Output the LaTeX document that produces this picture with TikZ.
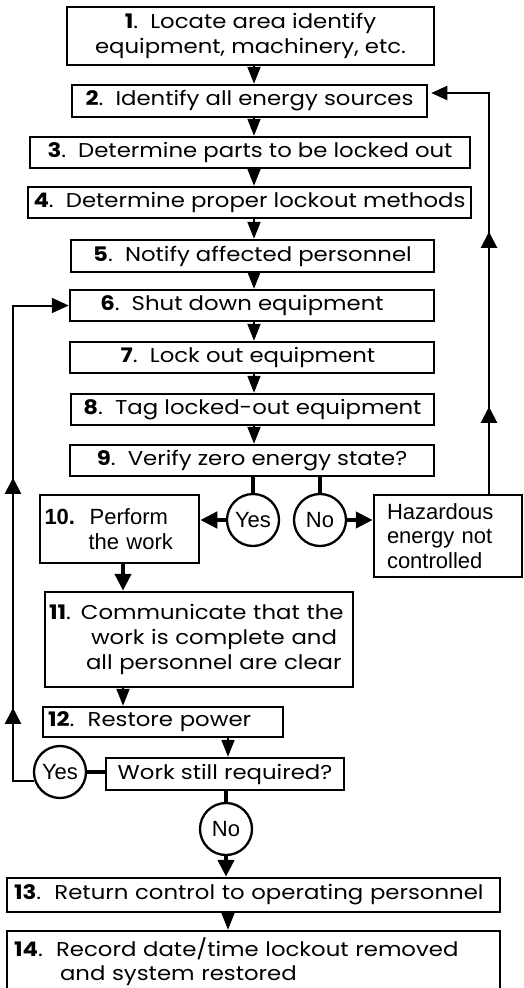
\documentclass[tikz,border=0pt]{standalone}
\usepackage{fontspec}
\setmainfont[FakeStretch=1.14]{Poppins}
\newfontfamily\arialf{Liberation Sans}
\usetikzlibrary{arrows.meta,decorations.markings}
\tikzset{
  box/.style={draw, line width=2.5pt, inner sep=0pt, font=\fontsize{20}{25}\selectfont, align=center},
  abox/.style={draw, line width=2.5pt, inner sep=0pt, font=\arialf\fontsize{22}{24.5}\selectfont},
  circ/.style={draw, circle, line width=2.3pt, minimum size=52pt, inner sep=0pt, font=\arialf\fontsize{22}{24}\selectfont},
  down/.style={line width=2pt, -{Triangle[width=13pt,length=17pt]}},
  stem/.style={line width=4.5pt},
  stemarrow/.style={line width=4.5pt, -{Triangle[width=16pt,length=17pt]}},
  conn/.style={line width=2pt},
  midarrow/.style={postaction={decorate, decoration={markings, mark=at position #1 with {\arrow{Triangle[width=16pt,length=16pt]}}}}}
}
\begin{document}
\begin{tikzpicture}[x=1pt,y=-1pt]
\clip (0,0) rectangle (524,988);
\useasboundingbox (0,0) rectangle (524,988);
\fill[white] (0,0) rectangle (524,988);
\coordinate (cx) at (254,0);
\coordinate (cy) at (123,0);
\coordinate (cz) at (228,0);
\coordinate (rx) at (489,0);
\coordinate (lx) at (13,0);

\node[box, minimum width=367pt, minimum height=58pt] (b1) at (250.5,36) {\textbf{1}.\ \ Locate area identify\\equipment, machinery, etc.};
\node[box, minimum width=355pt, minimum height=32pt] (b2) at (249.5,101) {\textbf{2}.\ \ Identify all energy sources};
\node[box, minimum width=440pt, minimum height=31pt] (b3) at (250,152.5) {\textbf{3}.\ \ Determine parts to be locked out};
\node[box, minimum width=443pt, minimum height=31pt] (b4) at (249.5,202.5) {\textbf{4}.\ \ Determine proper lockout methods};
\node[box, minimum width=363pt, minimum height=32pt] (b5) at (252.5,256) {\textbf{5}.\ \ Notify affected personnel};
\node[box, minimum width=364pt, minimum height=31pt] (b6) at (252,305.5) {\textbf{6}.\ \ Shut down equipment\hspace*{20pt}};
\node[box, minimum width=364pt, minimum height=31pt] (b7) at (252,357.5) {\textbf{7}.\ \ Lock out equipment\hspace*{8pt}};
\node[box, minimum width=363pt, minimum height=31pt] (b8) at (252.5,409.5) {\textbf{8}.\ \ Tag locked-out equipment};
\node[box, minimum width=364pt, minimum height=31pt] (b9) at (252,460.5) {\textbf{9}.\ \ Verify zero energy state?};

\node[circ] (y1) at (253,520) {Yes};
\node[circ] (n1) at (320,520) {No};

\node[abox, minimum width=159pt, minimum height=68pt, align=left, text width=150pt, inner xsep=4pt] (b10) at (119.5,529) {\textbf{10.}\ \ Perform\\\hspace*{44pt}the work};
\node[abox, minimum width=148pt, minimum height=82pt, align=left, text width=122pt, inner xsep=13pt] (hz) at (448,536) {Hazardous\\energy not\\controlled};

\node[box, minimum width=308pt, minimum height=95pt, align=left, text width=300pt, inner xsep=4pt] (b11) at (199,639.5) {\textbf{11}. Communicate that the\\\hspace*{42pt}work is complete and\\\hspace*{37pt}all personnel are clear};
\node[box, minimum width=240pt, minimum height=30pt, align=left, text width=230pt, inner xsep=5pt] (b12) at (163,722) {\textbf{12}.\ \ Restore power};
\node[box, minimum width=238pt, minimum height=32pt] (wk) at (225,774) {Work still required?};

\node[circ] (y2) at (60,772) {Yes};
\node[circ] (n2) at (226,829) {No};

\node[box, minimum width=493pt, minimum height=34pt, align=left, text width=479pt, inner xsep=7pt] (b13) at (253.5,895) {\textbf{13}.\ \ Return control to operating personnel};
\node[box, minimum width=493pt, minimum height=62pt, align=left, text width=479pt, inner xsep=7pt, font=\fontsize{20}{24}\selectfont] (b14) at (253.5,962) {\textbf{14}.\ \ Record date/time lockout removed\\\hspace*{46pt}and system restored};

\coordinate (b2in) at ([yshift=8pt]b2.east);

% main chain
\draw[down] (b1.south -| cx) -- (b2.north -| cx);
\draw[down] (b2.south -| cx) -- (b3.north -| cx);
\draw[down] (b3.south -| cx) -- (b4.north -| cx);
\draw[down] (b4.south -| cx) -- (b5.north -| cx);
\draw[down] (b5.south -| cx) -- (b6.north -| cx);
\draw[down] (b6.south -| cx) -- (b7.north -| cx);
\draw[down] (b7.south -| cx) -- (b8.north -| cx);
\draw[down] (b8.south -| cx) -- (b9.north -| cx);

% decision 9
\draw[stem] (b9.south -| y1) -- (y1.north);
\draw[stem] (b9.south -| n1) -- (n1.north);
\draw[stemarrow] (y1.west) -- (b10.east |- y1.west);
\draw[stemarrow] (n1.east) -- (hz.west |- n1.east);

% loop back to 2
\draw[conn, midarrow=87pt, midarrow=262pt, -{Triangle[width=14pt,length=16pt]}, shorten >=3pt]
  (hz.north -| rx) -- (rx |- b2in) -- (b2in);

% 10 -> 11 -> 12 -> work
\draw[stemarrow] (b10.south -| cy) -- (b11.north -| cy);
\draw[down] (b11.south -| cy) -- (b12.north -| cy);
\draw[down] (b12.south -| cz) -- (wk.north -| cz);

% work decision
\draw[stem] (y2.east) -- (wk.west |- y2.east);
\draw[stem] (wk.south -| n2) -- (n2.north);
\draw[stemarrow] (n2.south) -- (b13.north -| n2);
\draw[down] (b13.south -| cz) -- (b14.north -| cz);

% loop back to 6
\draw[conn, midarrow=95pt, midarrow=325pt, -{Triangle[width=15pt,length=17pt]}]
  (y2.200) -- (lx |- y2.200) -- (lx |- b6.west) -- (b6.west);
\end{tikzpicture}
\end{document}
